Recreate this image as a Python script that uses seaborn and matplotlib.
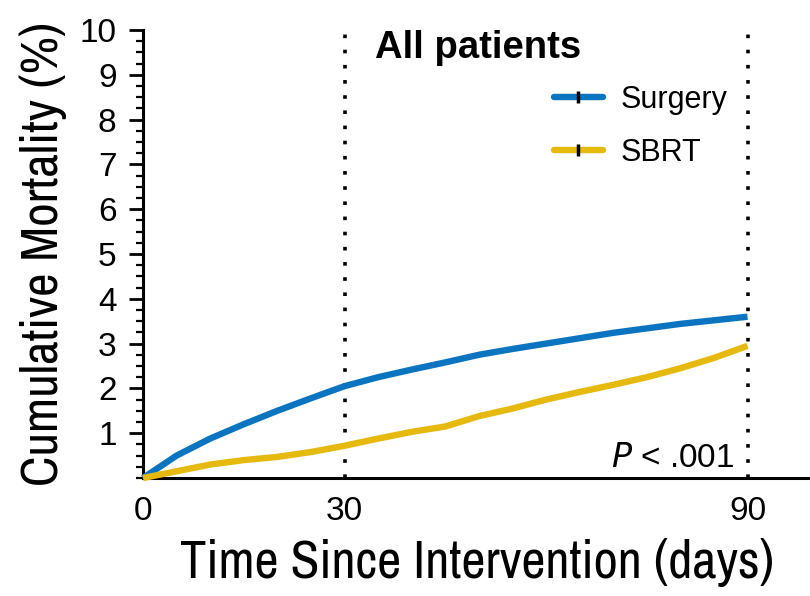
import matplotlib
matplotlib.use("Agg")
import matplotlib.pyplot as plt
from matplotlib.lines import Line2D
from matplotlib.ticker import MultipleLocator
import seaborn as sns
import pandas as pd

days = [0, 5, 10, 15, 20, 25, 30, 35, 40, 45, 50, 55, 60, 65, 70, 75, 80, 85, 90]
surgery = [0.0, 0.5, 0.88, 1.2, 1.5, 1.78, 2.05, 2.25, 2.42, 2.58, 2.75, 2.88,
           3.0, 3.12, 3.24, 3.34, 3.44, 3.52, 3.6]
sbrt = [0.0, 0.15, 0.3, 0.4, 0.47, 0.58, 0.72, 0.88, 1.03, 1.15, 1.38, 1.55,
        1.75, 1.92, 2.08, 2.25, 2.45, 2.68, 2.95]
groups = ["Surgery", "SBRT"]
colors = ["#0a74c0", "#e6b90f"]
x_ticks = [0, 30, 90]
y_ticks = [1, 2, 3, 4, 5, 6, 7, 8, 9, 10]
ref_lines = [30, 90]

df = pd.DataFrame({
    "day": days * 2,
    "mort": surgery + sbrt,
    "group": [groups[0]] * len(days) + [groups[1]] * len(days),
})

sns.set_style("ticks")
plt.rcParams["font.family"] = ["Liberation Sans", "DejaVu Sans"]
for k in ["text.color", "axes.labelcolor", "xtick.color", "ytick.color", "axes.edgecolor"]:
    plt.rcParams[k] = "black"
narrow = ["Archivo Narrow", "Liberation Sans"]

fig = plt.figure(figsize=(8.1, 5.96), dpi=100)
ax = fig.add_axes([143 / 810, 1 - 478 / 596, 1 - 143 / 810, (478 - 30) / 596])

for xv in ref_lines:
    ax.axvline(xv, color="black", lw=2.6, ls=(0, (1, 3.2)), zorder=1)

sns.lineplot(data=df, x="day", y="mort", hue="group", palette=colors,
             hue_order=groups, lw=4.6, ax=ax, legend=False, zorder=3)
for ln in ax.get_lines()[len(ref_lines):]:
    ln.set_clip_on(False)
    ln.set_solid_capstyle("butt")

ax.set_xlim(0, 99.3)
ax.set_ylim(0, 10)
ax.set_xticks(x_ticks)
ax.set_yticks(y_ticks)
ax.yaxis.set_minor_locator(MultipleLocator(0.25))
ax.tick_params(axis="x", length=0, pad=13, labelsize=24)
ax.tick_params(axis="y", which="major", length=10, width=2, labelsize=24, pad=9)
ax.tick_params(axis="y", which="minor", length=5, width=1.6)
sns.despine(ax=ax)
for s in ["left", "bottom"]:
    ax.spines[s].set_linewidth(2.2)

ax.set_xlabel("Time Since Intervention (days)", fontsize=38, family=narrow, labelpad=8)
ax.set_ylabel("Cumulative Mortality (%)", fontsize=37, family=narrow, labelpad=9)

ax.text(49.9, 10.0, "All patients", ha="center", va="top", fontsize=27.5, fontweight="bold")
ax.text(88.0, 0.1, r"$\it{P}$ < .001", ha="right", va="bottom", fontsize=24)

handles = [Line2D([0], [0], color=c, lw=4.6, marker="|", markersize=9,
                  markeredgecolor="black", markeredgewidth=2.5) for c in colors]
ax.legend(handles, groups, loc="upper right", bbox_to_anchor=(0.895, 0.905),
          frameon=False, fontsize=22, handlelength=1.6, handletextpad=0.6,
          labelspacing=0.75, borderaxespad=0)

fig.savefig("out.png", dpi=100)
